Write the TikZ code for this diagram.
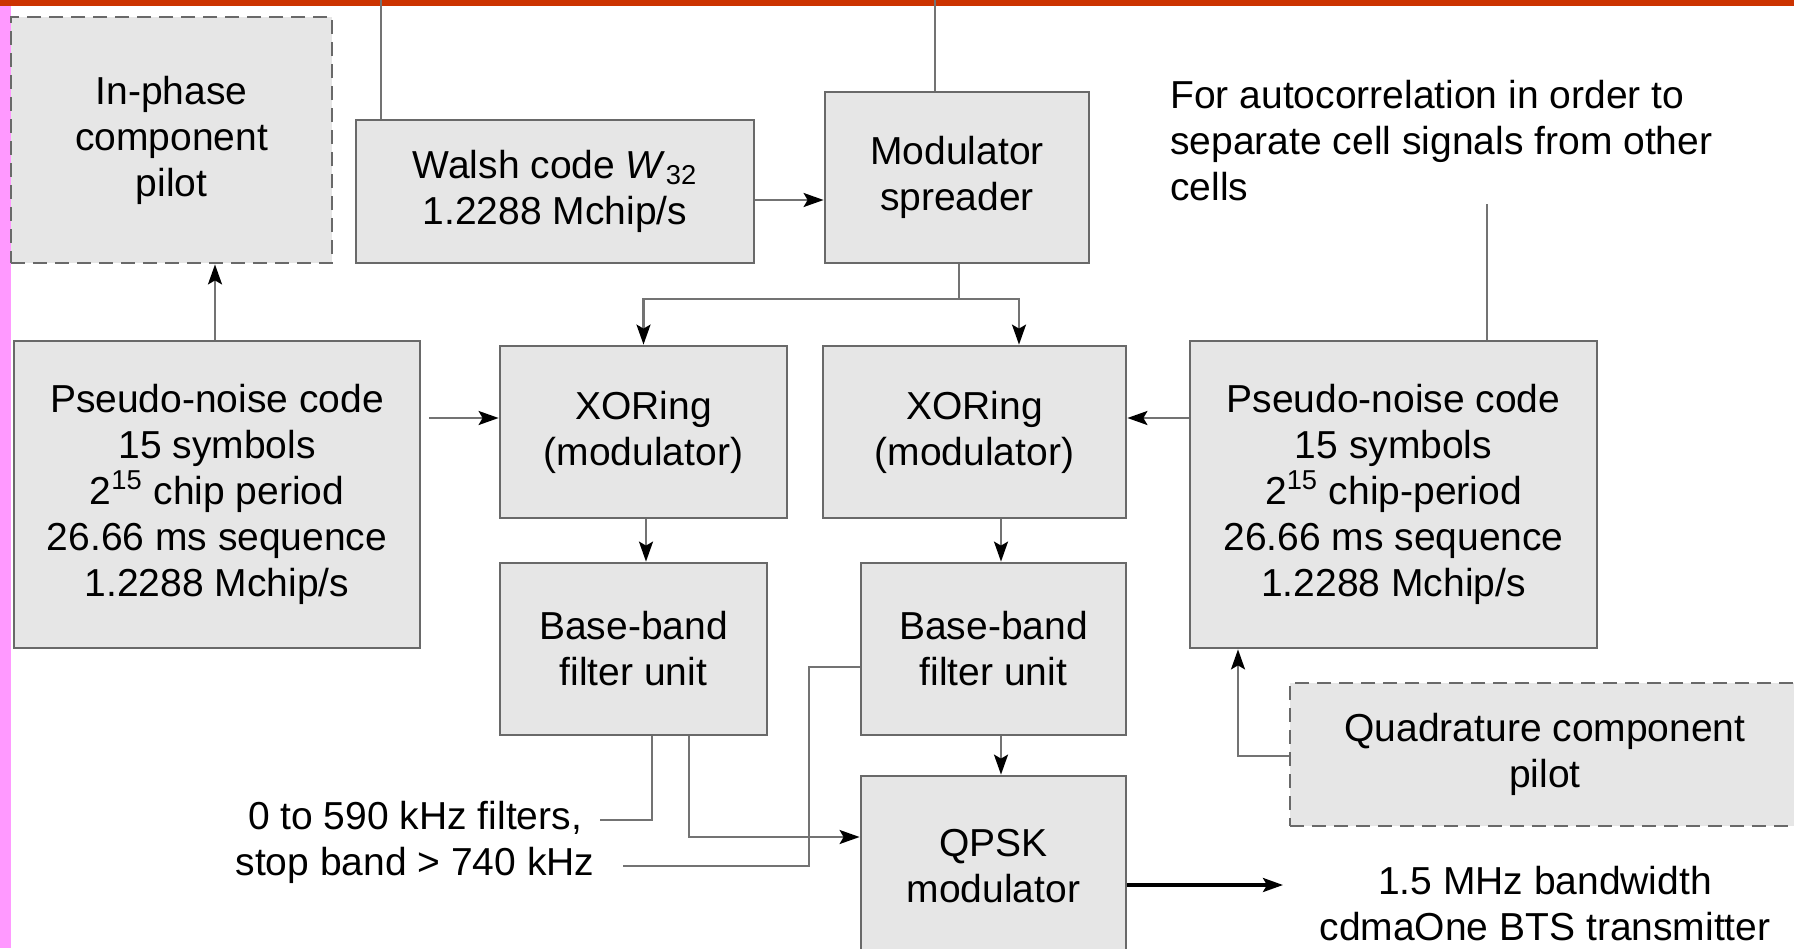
\documentclass[tikz,border=0pt]{standalone}
\usepackage{fontspec}
\setmainfont{Liberation Sans}
\usetikzlibrary{arrows.meta}
\definecolor{topband}{RGB}{204,51,0}
\definecolor{sideband}{RGB}{255,153,255}
\definecolor{boxfill}{RGB}{230,230,230}
\definecolor{boxline}{RGB}{105,105,105}
\tikzset{
  blk/.style={draw=boxline,fill=boxfill,line width=1.4pt,align=center,inner sep=0pt},
  pilotbox/.style={blk,dash pattern=on 7pt off 4pt},
  wire/.style={draw=black!55,line width=1.1pt},
  arr/.style={wire,-{Stealth[length=10pt,width=7pt,inset=2pt,color=black]}},
}
\begin{document}
\begin{tikzpicture}[x=0.5pt,y=-0.5pt,every node/.style={font=\fontsize{19.5}{23}\selectfont}]
\useasboundingbox (0,0) rectangle (1794,948);
\clip (0,0) rectangle (1794,948);
% frame bands
\fill[sideband] (0,0) rectangle (11,948);
\fill[topband] (0,0) rectangle (1794,6);
% top row
\node[pilotbox,minimum width=160.5pt,minimum height=123pt] (inph) at (171.5,140) {In-phase\\component\\pilot};
\node[blk,minimum width=199pt,minimum height=71.5pt] (walsh) at (555,191.5) {Walsh code \textit{W}\textsubscript{32}\\1.2288 Mchip/s};
\node[blk,minimum width=132pt,minimum height=85.5pt] (spread) at (957,177.5) {Modulator\\spreader};
\node[anchor=west,align=left,inner sep=0pt] (note) at (1170,141) {For autocorrelation in order to\\separate cell signals from other\\cells};
% middle row
\node[blk,minimum width=203pt,minimum height=153.5pt] (pnl) at (217,494.5) {Pseudo-noise code\\15 symbols\\2\textsuperscript{15} chip period\\26.66 ms sequence\\1.2288 Mchip/s};
\node[blk,minimum width=143.5pt,minimum height=86pt] (xorl) at (643.5,432) {XORing\\(modulator)};
\node[blk,minimum width=151.5pt,minimum height=86pt] (xorr) at (974.5,432) {XORing\\(modulator)};
\node[blk,minimum width=203.5pt,minimum height=153.5pt] (pnr) at (1393.5,494.5) {Pseudo-noise code\\15 symbols\\2\textsuperscript{15} chip-period\\26.66 ms sequence\\1.2288 Mchip/s};
% lower rows
\node[blk,minimum width=133.5pt,minimum height=86pt] (bbl) at (633.5,649) {Base-band\\filter unit};
\node[blk,minimum width=132.5pt,minimum height=86pt] (bbr) at (993.5,649) {Base-band\\filter unit};
\node[blk,minimum width=132.5pt,minimum height=90pt] (qpsk) at (993.5,866) {QPSK\\modulator};
\node[pilotbox,minimum width=255pt,minimum height=71.5pt] (quad) at (1545,754.5) {Quadrature component\\pilot};
\node[align=center,inner sep=0pt] (filtnote) at (415,842) {0 to 590 kHz filters,\\stop band > 740 kHz};
\node[align=center,inner sep=0pt] (outtxt) at (1545,904) {1.5 MHz bandwidth\\cdmaOne BTS transmitter};
% connectors
\coordinate (wtop) at (381,0);
\coordinate (sptop) at (935,0);
\coordinate (split) at (959,299);
\coordinate (notebot) at (1487,204);
\coordinate (fend1) at (600,820);
\coordinate (fend2) at (623,866);
\coordinate (outtip) at (1283,885);
\draw[wire] (wtop) -- (wtop |- walsh.north);
\draw[wire] (sptop) -- (sptop |- spread.north);
\draw[arr] (walsh.east |- 0,200) -- (spread.west |- 0,200);
\draw[wire] (split |- spread.south) -- (split);
\draw[arr] (split) -| (xorl.north);
\draw[arr] (split) -| (1019,0 |- xorr.north);
\draw[wire] (notebot) -- (notebot |- pnr.north);
\draw[arr,shorten <=4pt] (pnl.east |- 0,418) -- (xorl.west |- 0,418);
\draw[arr] (pnr.west |- 0,418) -- (xorr.east |- 0,418);
\draw[arr] (215,0 |- pnl.north) -- (215,0 |- inph.south);
\draw[arr] (646,0 |- xorl.south) -- (646,0 |- bbl.north);
\draw[arr] (1001,0 |- xorr.south) -- (1001,0 |- bbr.north);
\draw[arr] (1001,0 |- bbr.south) -- (1001,0 |- qpsk.north);
\draw[arr] (quad.west |- 0,756) -| (1238,0 |- pnr.south);
\draw[wire] (652,0 |- bbl.south) |- (fend1);
\draw[arr] (689,0 |- bbl.south) |- (qpsk.west |- 0,837);
\draw[wire] (bbr.west |- 0,667) -| (809,866) -- (fend2);
\draw[arr,draw=black,line width=1.6pt] (qpsk.east |- outtip) -- (outtip);
\end{tikzpicture}
\end{document}
